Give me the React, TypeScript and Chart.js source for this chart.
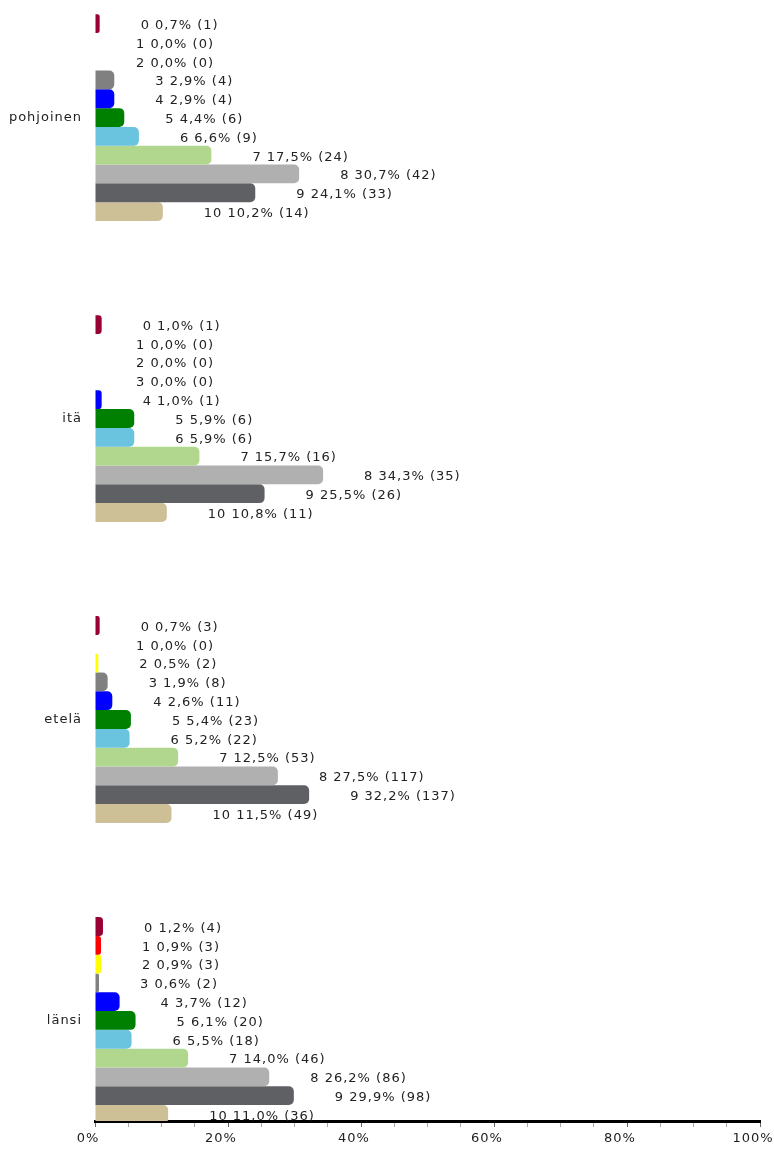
import React, { useEffect, useRef } from 'react';
import { Chart, registerables } from 'chart.js';

Chart.register(...registerables);

const regions = ['pohjoinen', 'itä', 'etelä', 'länsi'];
const grades = ['0', '1', '2', '3', '4', '5', '6', '7', '8', '9', '10'];
const gradeColors = [
  '#990033', '#FF0000', '#FFFF00', '#808080', '#0000FF', '#008000',
  '#6BC4DF', '#B1D68E', '#B0B0B0', '#5F6064', '#CDBF96',
];

const pohjoinenPct = [0.7, 0.0, 0.0, 2.9, 2.9, 4.4, 6.6, 17.5, 30.7, 24.1, 10.2];
const pohjoinenCount = [1, 0, 0, 4, 4, 6, 9, 24, 42, 33, 14];
const itaPct = [1.0, 0.0, 0.0, 0.0, 1.0, 5.9, 5.9, 15.7, 34.3, 25.5, 10.8];
const itaCount = [1, 0, 0, 0, 1, 6, 6, 16, 35, 26, 11];
const etelaPct = [0.7, 0.0, 0.5, 1.9, 2.6, 5.4, 5.2, 12.5, 27.5, 32.2, 11.5];
const etelaCount = [3, 0, 2, 8, 11, 23, 22, 53, 117, 137, 49];
const lansiPct = [1.2, 0.9, 0.9, 0.6, 3.7, 6.1, 5.5, 14.0, 26.2, 29.9, 11.0];
const lansiCount = [4, 3, 3, 2, 12, 20, 18, 46, 86, 98, 36];

const regionPct = [pohjoinenPct, itaPct, etelaPct, lansiPct];
const regionCount = [pohjoinenCount, itaCount, etelaCount, lansiCount];

const xMinorStep = 5;
const xLabelStep = 20;

const FONT = '"DejaVu Sans", sans-serif';

const spacingPlugin = {
  id: 'letterSpacing',
  beforeUpdate(chart: any) {
    chart.ctx.letterSpacing = '1px';
  },
  beforeDraw(chart: any) {
    chart.ctx.letterSpacing = '1px';
  },
};

const valueLabelPlugin = {
  id: 'valueLabels',
  afterDatasetsDraw(chart: any) {
    const ctx = chart.ctx;
    const xs = chart.scales.x;
    ctx.save();
    ctx.letterSpacing = '1px';
    ctx.font = `13px ${FONT}`;
    ctx.fillStyle = '#222';
    ctx.textAlign = 'left';
    ctx.textBaseline = 'middle';
    chart.data.datasets.forEach((ds: any, di: number) => {
      const meta = chart.getDatasetMeta(di);
      meta.data.forEach((el: any, ri: number) => {
        const pct = ds.data[ri].x;
        const count = regionCount[ri][di];
        const text = `${grades[di]} ${pct.toFixed(1).replace('.', ',')}% (${count})`;
        ctx.fillText(text, xs.getPixelForValue(pct) + 41, el.y + 2);
      });
    });
    ctx.restore();
  },
};

export default function App() {
  const ref = useRef<HTMLCanvasElement>(null);

  useEffect(() => {
    if (!ref.current) return;
    const datasets = grades.map((g, gi) => ({
      label: g,
      data: regionPct.map((arr, ri) => ({ x: arr[gi], y: ri })),
      backgroundColor: gradeColors[gi],
      borderWidth: 0,
      borderRadius: 5,
      borderSkipped: 'start' as const,
      categoryPercentage: 0.687,
      barPercentage: 1,
    }));

    const chart = new Chart(ref.current, {
      type: 'bar',
      data: { datasets },
      plugins: [spacingPlugin, valueLabelPlugin],
      options: {
        indexAxis: 'y',
        animation: false,
        responsive: false,
        layout: { padding: { top: 14, left: 0, right: 0, bottom: 0 } },
        font: { family: FONT, size: 13 },
        plugins: {
          legend: { display: false },
          tooltip: { enabled: false },
        },
        scales: {
          y: {
            type: 'linear',
            reverse: true,
            offset: false,
            min: -0.344,
            max: 3.334,
            bounds: 'data',
            grid: { display: false, drawTicks: false, offset: false },
            border: { display: false },
            ticks: {
              stepSize: 1,
              padding: 13,
              color: '#222',
              font: { family: FONT, size: 13 },
              callback: (v: any) => (regions[v as number] ?? ''),
            },
            afterBuildTicks: (scale: any) => {
              scale.ticks = regions.map((_, i) => ({ value: i }));
            },
            afterFit: (scale: any) => {
              scale.width = 95;
              scale.paddingTop = 0;
              scale.paddingBottom = 0;
            },
          },
          x: {
            type: 'linear',
            min: 0,
            max: 100,
            grid: {
              display: true,
              drawOnChartArea: false,
              drawTicks: true,
              tickLength: 6,
              tickColor: (c: any) => (c.tick && c.tick.value % xLabelStep === 0 ? '#666' : '#aaa'),
            },
            border: { display: true, color: '#000', width: 3 },
            ticks: {
              stepSize: xMinorStep,
              autoSkip: false,
              maxRotation: 0,
              padding: 4,
              labelOffset: -7,
              color: '#222',
              font: { family: FONT, size: 13 },
              callback: (v: any) => ((v as number) % xLabelStep === 0 ? `${v}%` : ''),
            },
            afterFit: (scale: any) => {
              scale.height = 28;
              scale.paddingLeft = 0;
              scale.paddingRight = 14;
            },
          },
        },
      } as any,
    });
    return () => chart.destroy();
  }, []);

  return (
    <div style={{ position: 'fixed', left: 0, top: 0, width: 774, height: 1149, background: '#fff' }}>
      <canvas ref={ref} width={774} height={1149} style={{ display: 'block' }} />
    </div>
  );
}
